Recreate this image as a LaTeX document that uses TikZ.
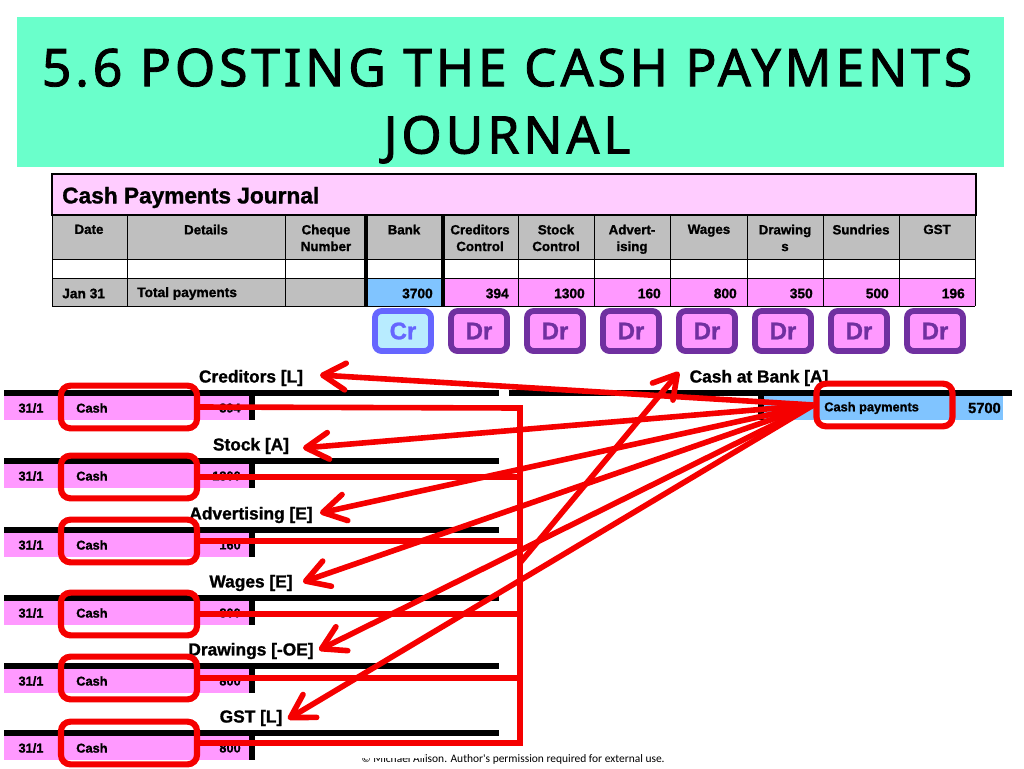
\documentclass[tikz,border=0pt]{standalone}
\usepackage{fontspec}
\setmainfont[BoldFeatures={FakeBold=1.2}]{Liberation Sans}
\newfontfamily\titlefont[LetterSpace=7,FakeBold=1.6]{Noto Sans}
\newfontfamily\footfont{Carlito}
\usetikzlibrary{arrows.meta}
\definecolor{titlegreen}{HTML}{6AFFCB}
\definecolor{headpink}{HTML}{FFCCFF}
\definecolor{rowpink}{HTML}{FF99FF}
\definecolor{rowgrey}{HTML}{BFBFBF}
\definecolor{rowblue}{HTML}{80C4FF}
\definecolor{crblue}{HTML}{6666FF}
\definecolor{crfill}{HTML}{B8ECFF}
\definecolor{drpurple}{HTML}{7030A0}
\definecolor{markred}{HTML}{F50000}
\tikzset{
  colhead/.style={font=\fontsize{10}{12.5}\bfseries,align=center,anchor=north},
  total/.style={font=\fontsize{10.3}{12}\bfseries,anchor=east,inner sep=0pt},
  badge/.style={draw=drpurple,fill=rowpink,text=drpurple,line width=4.4pt,rounded corners=5pt,minimum width=42pt,minimum height=30pt,font=\fontsize{18}{18}\bfseries,inner sep=0pt},
  ledgertitle/.style={font=\fontsize{13}{13}\bfseries},
  ledgertext/.style={font=\fontsize{9.6}{10}\bfseries,inner sep=0pt},
  redbox/.style={draw=markred,line width=4.6pt,rounded corners=7pt,inner sep=0pt},
  redline/.style={draw=markred,line width=4.2pt},
  redarrow/.style={redline,-{Straight Barb[length=17pt,width=20pt,line width=4.2pt,round]}}
}
\begin{document}
\begin{tikzpicture}[x=0.75pt,y=-0.75pt]
\useasboundingbox (0,0) rectangle (1024,768);
% title
\fill[titlegreen] (17,17) rectangle (1004,167);
\node[font=\titlefont\fontsize{39}{50.5}\selectfont,align=center] (title) at (507,106) {5.6 POSTING THE CASH PAYMENTS\\JOURNAL};
% journal
\draw[fill=headpink,line width=1pt] (52,174) rectangle (976,215);
\node[anchor=west,inner sep=0pt,font=\fontsize{17}{18}\bfseries] (jname) at (62,197.5) {Cash Payments Journal};
\fill[rowgrey] (52,215) rectangle (975,259);
\fill[rowgrey] (52,278) rectangle (366,306);
\fill[rowblue] (366,278) rectangle (443,306);
\fill[rowpink] (443,278) rectangle (975,306);
\draw[line width=0.75pt] (52,215) -- (975,215) (52,259) -- (975,259) (52,278) -- (975,278) (52,306) -- (975,306);
\foreach \x in {52,127,285,518.5,594.5,670.5,747,823,899.5,975}
  \draw[line width=0.75pt] (\x,215) -- (\x,306);
\foreach \x in {366,443}
  \draw[line width=2.4pt] (\x,215) -- (\x,306);
\foreach \x/\t in {89/Date,206/Details,326/Cheque\\Number,404/Bank,480/Creditors\\Control,556/Stock\\Control,632/Advert-\\ising,709/Wages,785/Drawing\\s,861/Sundries,937/GST}
  \node[colhead] at (\x,220) {\t};
\node[total,anchor=west] (jdate) at (62,293.5) {Jan 31};
\node[total,anchor=west] (jdetails) at (137,293.5) {Total payments};
\foreach \x/\t in {433/3700,509/394,585/1300,661/160,737/800,813/350,889/500,965/196}
  \node[total] at (\x,293.5) {\t};
% badges
\node[badge,draw=crblue,fill=crfill,text=crblue] (cr) at (403,331) {Cr};
\foreach \x in {479,555,631,707,783,859,935}
  \node[badge] (dr\x) at (\x,331) {Dr};
% bank ledger
\fill[rowblue] (764,396) rectangle (1003,420);
\draw[line width=4.5pt] (509,393) -- (1012,393);
\draw[line width=4.5pt] (761,393) -- (761,420);
\node[ledgertitle] (bank) at (759,378) {Cash at Bank [A]};
\node[ledgertext,anchor=west] (payments) at (824,408) {Cash payments};
\node[ledgertext,font=\fontsize{11}{11}\bfseries,anchor=east] (bankamt) at (1001,408) {5700};
\node[redbox,minimum width=102pt,minimum height=32pt] (bankmark) at (884.5,405) {};
% ledgers
\foreach \y/\m/\t/\a/\n in {390/407/Creditors [L]/394/a,458/477/Stock [A]/1300/b,527/541/Advertising [E]/160/c,595/614/Wages [E]/800/d,663/678/Drawings [-OE]/800/e,730/743/GST [L]/800/f}{
  \fill[rowpink] (4,\y+6) rectangle (249,\y+30);
  \draw[line width=4.5pt] (4,\y+3) -- (499,\y+3);
  \draw[line width=4.5pt] (252,\y+3) -- (252,\y+30);
  \node[ledgertitle] (name\n) at (251,\y-12) {\t};
  \node[ledgertext] at (31,\y+18) {31/1};
  \node[ledgertext,anchor=west] at (76,\y+18) {Cash};
  \node[ledgertext,anchor=east] at (241,\y+18) {\a};
  \node[redbox,minimum width=102pt,minimum height=32pt] (mark\n) at (129,\m) {};
}
% red lines
\coordinate (drop) at (520,408);
\coordinate (bottom) at (520,743);
\draw[redline] (marka.east) -- (drop) -- (bottom) -- (markf.east);
\foreach \n in {b,c,d,e}
  \draw[redline] (mark\n.east) -- (mark\n.east -| drop);
\coordinate (tipa) at (320,375);
\coordinate (tipb) at (303,448);
\coordinate (tipc) at (320,513);
\coordinate (tipd) at (303,582);
\coordinate (tipe) at (319,650);
\coordinate (tipf) at (288,719);
\foreach \n in {a,b,c,d,e,f}
  \draw[redarrow] (bankmark.west) -- (tip\n);
\coordinate (tipbank) at (679,372);
\coordinate (startbank) at (520,563);
\draw[redarrow] (startbank) -- (tipbank);
% footer
\node[font=\footfont\fontsize{8.6}{9}\selectfont] (footer) at (513,759) {© Michael Allison. Author's permission required for external use.};
\fill[white] (355,749) rectangle (424,757.5);
\end{tikzpicture}
\end{document}
